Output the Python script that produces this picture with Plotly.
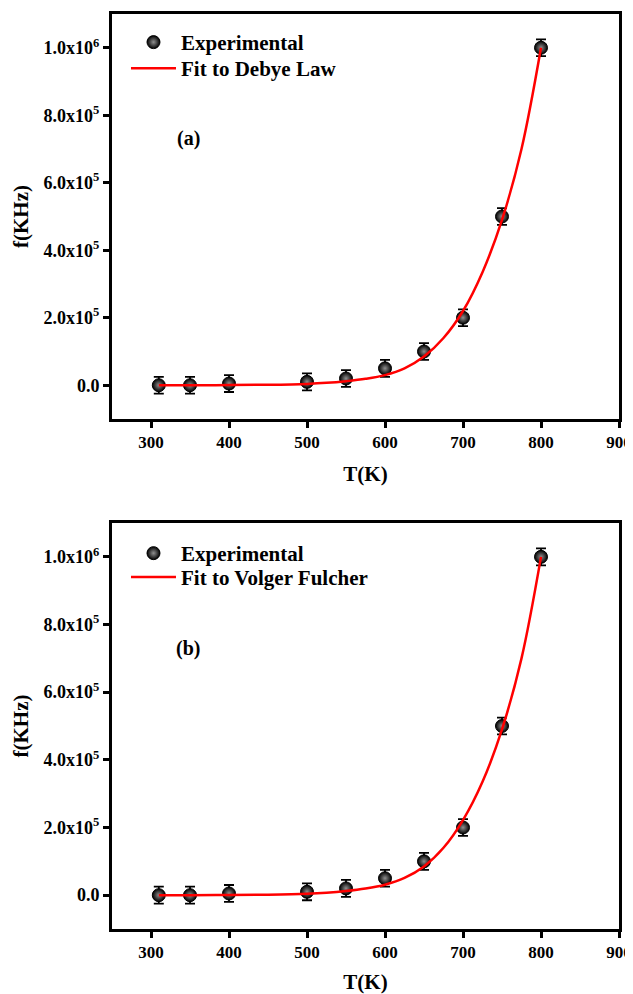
import plotly.graph_objects as go

# Experimental data
T_exp = [310, 350, 400, 500, 550, 600, 650, 700, 750, 800]
f_exp_a = [0, 0, 5000, 10000, 20000, 50000, 100000, 200000, 500000, 1000000]
f_exp_b = [0, 0, 5000, 10000, 20000, 50000, 100000, 200000, 500000, 1000000]
f_err = [25000, 25000, 25000, 25000, 25000, 25000, 25000, 25000, 25000, 25000]

# Fitted curves
T_fit = [310, 350, 400, 450, 500, 525, 550, 575, 600, 625, 650, 675, 700, 725, 750, 775, 800]
f_fit_a = [0, 100, 400, 1500, 4000, 7000, 12000, 19000, 30000, 50000, 85000, 140000, 220000, 335000, 490000, 700000, 1000000]
f_fit_b = [0, 100, 400, 1500, 4000, 7000, 12000, 19500, 31000, 51000, 85000, 140000, 222000, 335000, 490000, 700000, 1000000]

x_ticks = [300, 400, 500, 600, 700, 800, 900]
y_ticks = [0, 200000, 400000, 600000, 800000, 1000000]
y_ticktext = ["0.0", "2.0x10<sup>5</sup>", "4.0x10<sup>5</sup>", "6.0x10<sup>5</sup>",
              "8.0x10<sup>5</sup>", "1.0x10<sup>6</sup>"]

FONT = "Liberation Serif"

fig = go.Figure()

def add_panel(f_exp, f_fit, xa, ya, leg_exp, leg_fit, fit_name):
    fig.add_trace(go.Scatter(
        x=T_exp, y=f_exp, mode="markers", name="<b>Experimental</b>",
        xaxis=xa, yaxis=ya, legend=leg_exp, showlegend=True,
        error_y=dict(type="data", array=f_err, visible=True, color="black",
                     thickness=1.8, width=5),
        marker=dict(size=13, color="black",
                    gradient=dict(type="radial", color="#909090"),
                    line=dict(color="black", width=1)),
    ))
    fig.add_trace(go.Scatter(
        x=T_fit, y=f_fit, mode="lines", name=fit_name,
        xaxis=xa, yaxis=ya, legend=leg_fit, showlegend=True,
        line=dict(color="#ff0000", width=2.5, shape="spline"),
    ))

add_panel(f_exp_a, f_fit_a, "x", "y", "legend", "legend3", "<b>Fit to Debye Law</b>")
add_panel(f_exp_b, f_fit_b, "x2", "y2", "legend2", "legend4", "<b>Fit to Volger Fulcher</b>")

axis_common = dict(
    showline=True, linecolor="black", linewidth=3, mirror=True,
    ticks="outside", ticklen=6, tickwidth=2.5, tickcolor="black",
    showgrid=False, zeroline=False, automargin=False,
    tickfont=dict(family=FONT, size=18, color="black"),
)

def xaxis_def(standoff):
    return dict(axis_common, range=[250, 900], tickvals=x_ticks,
                ticktext=["<b>%d</b>" % v for v in x_ticks],
                tickfont=dict(family=FONT, size=17, color="black"),
                title=dict(text="<b>T(K)</b>", font=dict(family=FONT, size=21, color="black"),
                           standoff=standoff))

ya = dict(axis_common, range=[-100000, 1100000], tickvals=y_ticks,
          ticktext=["<b>%s</b>" % t for t in y_ticktext],
          title=dict(text="<b>f(KHz)</b>", font=dict(family=FONT, size=21, color="black"), standoff=10))

legend_common = dict(xanchor="left", yanchor="top", bgcolor="rgba(0,0,0,0)",
                     borderwidth=0, itemwidth=45, visible=True,
                     font=dict(family=FONT, size=21, color="black"))

fig.update_layout(
    width=625, height=986,
    margin=dict(l=104, r=14, t=6, b=65),
    paper_bgcolor="white", plot_bgcolor="white",
    font=dict(family=FONT, color="black"),
    showlegend=True,
    xaxis=dict(xaxis_def(15), domain=[0, 1], anchor="y"),
    yaxis=dict(ya, domain=[0.5574, 1], anchor="x"),
    xaxis2=dict(xaxis_def(28), domain=[0, 1], anchor="y2"),
    yaxis2=dict(ya, domain=[0, 0.4437], anchor="x2"),
    legend=dict(legend_common, x=0.0276, y=0.9913),
    legend3=dict(legend_common, x=0.0276, y=0.9628),
    legend2=dict(legend_common, x=0.0276, y=0.4328),
    legend4=dict(legend_common, x=0.0276, y=0.4066),
    annotations=[
        dict(text="<b>(a)</b>", x=0.15, y=0.8634, xref="paper", yref="paper", showarrow=False,
             xanchor="center", yanchor="middle",
             font=dict(family=FONT, size=20, color="black")),
        dict(text="<b>(b)</b>", x=0.15, y=0.3071, xref="paper", yref="paper", showarrow=False,
             xanchor="center", yanchor="middle",
             font=dict(family=FONT, size=20, color="black")),
    ],
)

fig.write_html("out.html")
